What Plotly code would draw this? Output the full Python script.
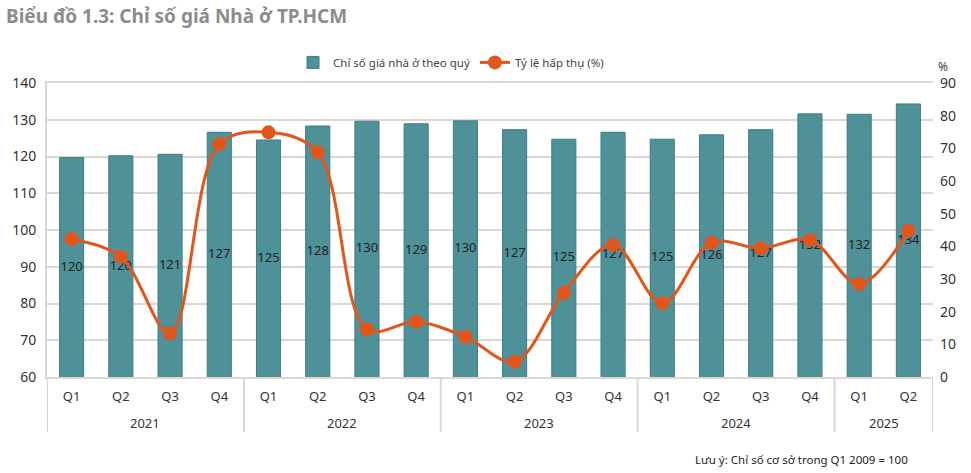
import plotly.graph_objects as go

years = ["2021"]*4 + ["2022"]*4 + ["2023"]*4 + ["2024"]*4 + ["2025"]*2
quarters = ["Q1", "Q2", "Q3", "Q4"]*4 + ["Q1", "Q2"]
price_index = [119.7, 120.2, 120.6, 126.6, 124.5, 128.3, 129.6, 128.9, 129.7,
               127.3, 124.7, 126.6, 124.7, 125.9, 127.3, 131.6, 131.5, 134.3]
price_labels = ["120", "120", "121", "127", "125", "128", "130", "129", "130",
                "127", "125", "127", "125", "126", "127", "132", "132", "134"]
absorption = [42.2, 36.8, 13.4, 71.3, 74.9, 68.8, 14.6, 16.9, 12.3,
              4.7, 25.8, 40.4, 22.6, 41.1, 39.4, 41.9, 28.5, 44.8]

Y_MIN, Y_MAX = 60, 140

TEAL = "#4f9199"
ORANGE = "#e2561c"
GRID = "#dcd7d2"
FONT = "Noto Sans"

x_keys = [f"{q} {y}" for q, y in zip(quarters, years)]
n = len(x_keys)

fig = go.Figure()
fig.add_trace(go.Bar(
    x=x_keys, y=price_index, name="Chỉ số giá nhà ở theo quý",
    marker=dict(color=TEAL, line=dict(color="#3f7d84", width=1)),
    width=0.49,
))
# value labels centred in the visible part of each bar
fig.add_trace(go.Scatter(
    x=x_keys, y=[(Y_MIN + v) / 2 for v in price_index],
    mode="text", text=price_labels, showlegend=False, hoverinfo="skip",
    textfont=dict(color="#222222", size=13, family=FONT),
))
fig.add_trace(go.Scatter(
    x=x_keys, y=absorption, name="Tỷ lệ hấp thụ (%)", yaxis="y2",
    mode="lines+markers", line=dict(color=ORANGE, width=3, shape="spline", smoothing=1.0),
    marker=dict(color=ORANGE, size=14),
))

# year group labels and dividers below the axis
shapes = []
annotations = []
start = 0
for i in range(1, n + 1):
    if i == n or years[i] != years[start]:
        annotations.append(dict(
            text=years[start], xref="x", yref="paper", x=(start + i - 1) / 2, y=0,
            yshift=-46, yanchor="middle", showarrow=False,
            font=dict(size=13, color="#333333")))
        start = i
for b in [-0.5] + [i - 0.5 for i in range(1, n) if years[i] != years[i - 1]] + [n - 0.5]:
    shapes.append(dict(type="line", xref="x", yref="paper", x0=b, x1=b,
                       y0=0, y1=-55 / 294, line=dict(color=GRID, width=2)))

annotations += [
    dict(text="<b>Biểu đồ 1.3: Chỉ số giá Nhà ở TP.HCM</b>", xref="paper", yref="paper",
         x=-0.048, y=1.0, xanchor="left", yanchor="top", yshift=82, showarrow=False,
         font=dict(size=19, color="#8c8c8c", family=FONT)),
    dict(text="%", xref="paper", yref="paper", x=1.0, y=1.0, xanchor="left",
         yanchor="bottom", xshift=3, yshift=6, showarrow=False,
         font=dict(size=12, color="#444444")),
    dict(text="Lưu ý: Chỉ số cơ sở trong Q1 2009 = 100", xref="paper", yref="paper",
         x=0.974, y=0.0, xanchor="right", yanchor="middle", yshift=-82, showarrow=False,
         font=dict(size=11.5, color="#222222")),
]

fig.update_layout(
    width=971, height=473,
    margin=dict(l=47, r=38, t=83, b=96, autoexpand=False),
    paper_bgcolor="white", plot_bgcolor="white",
    font=dict(family=FONT, color="#333333", size=13),
    showlegend=True,
    legend=dict(orientation="h", x=0.456, xanchor="center", y=1.07, yanchor="middle",
                font=dict(size=11.5, color="#444444"), itemwidth=30),
    xaxis=dict(type="category", range=[-0.5, n - 0.5], showline=True, linecolor=GRID,
               linewidth=2, mirror=True, showgrid=False, tickvals=x_keys, ticktext=quarters,
               tickfont=dict(size=13, color="#333333"), ticks="", ticklabelstandoff=6,
               automargin=False),
    yaxis=dict(range=[Y_MIN, Y_MAX], dtick=10, showgrid=True, gridcolor=GRID, gridwidth=2,
               showline=True, linecolor=GRID, linewidth=2, zeroline=False,
               tickfont=dict(size=14, color="#333333"), ticklabelstandoff=6,
               automargin=False),
    yaxis2=dict(range=[0, 90], dtick=10, overlaying="y", side="right", showgrid=False,
                zeroline=False, tickfont=dict(size=14, color="#333333"),
                ticklabelstandoff=6, automargin=False),
    shapes=shapes,
    annotations=annotations,
)

fig.write_html("out.html", config={"displayModeBar": False},
               post_script="document.body.style.margin='0';")
